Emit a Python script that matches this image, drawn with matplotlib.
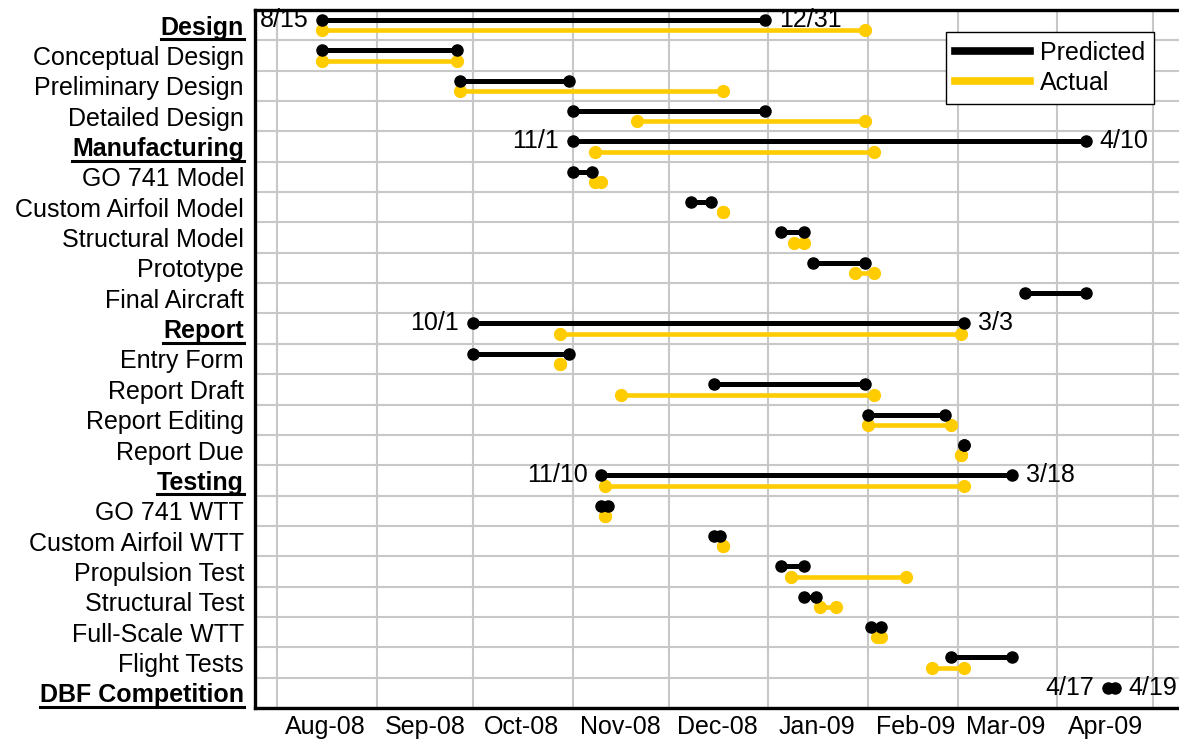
import datetime as dt

import matplotlib
matplotlib.use("Agg")
import matplotlib.dates as mdates
import matplotlib.pyplot as plt
from matplotlib.lines import Line2D
from matplotlib.ticker import FixedLocator, NullFormatter

plt.rcParams["font.family"] = ["Liberation Sans", "DejaVu Sans"]
plt.rcParams["font.size"] = 18

tasks = [
    "Design", "Conceptual Design", "Preliminary Design", "Detailed Design",
    "Manufacturing", "GO 741 Model", "Custom Airfoil Model", "Structural Model",
    "Prototype", "Final Aircraft",
    "Report", "Entry Form", "Report Draft", "Report Editing", "Report Due",
    "Testing", "GO 741 WTT", "Custom Airfoil WTT", "Propulsion Test",
    "Structural Test", "Full-Scale WTT", "Flight Tests",
    "DBF Competition",
]
groups = ["Design", "Manufacturing", "Report", "Testing", "DBF Competition"]

pred_start = [
    "2008-08-15", "2008-08-15", "2008-09-27", "2008-11-01",
    "2008-11-01", "2008-11-01", "2008-12-08", "2009-01-05",
    "2009-01-15", "2009-03-22",
    "2008-10-01", "2008-10-01", "2008-12-15", "2009-02-01", "2009-03-03",
    "2008-11-10", "2008-11-10", "2008-12-15", "2009-01-05",
    "2009-01-12", "2009-02-02", "2009-02-27",
    "2009-04-17",
]
pred_end = [
    "2008-12-31", "2008-09-26", "2008-10-31", "2008-12-31",
    "2009-04-10", "2008-11-07", "2008-12-14", "2009-01-12",
    "2009-01-31", "2009-04-10",
    "2009-03-03", "2008-10-31", "2009-01-31", "2009-02-25", "2009-03-03",
    "2009-03-18", "2008-11-12", "2008-12-17", "2009-01-12",
    "2009-01-16", "2009-02-05", "2009-03-18",
    "2009-04-19",
]
act_start = [
    "2008-08-15", "2008-08-15", "2008-09-27", "2008-11-21",
    "2008-11-08", "2008-11-08", "2008-12-18", "2009-01-09",
    "2009-01-28", None,
    "2008-10-28", "2008-10-28", "2008-11-16", "2009-02-01", "2009-03-02",
    "2008-11-11", "2008-11-11", "2008-12-18", "2009-01-08",
    "2009-01-17", "2009-02-04", "2009-02-21",
    None,
]
act_end = [
    "2009-01-31", "2008-09-26", "2008-12-18", "2009-01-31",
    "2009-02-03", "2008-11-10", "2008-12-18", "2009-01-12",
    "2009-02-03", None,
    "2009-03-02", "2008-10-28", "2009-02-03", "2009-02-27", "2009-03-02",
    "2009-03-03", "2008-11-11", "2008-12-18", "2009-02-13",
    "2009-01-22", "2009-02-05", "2009-03-03",
    None,
]

x_min, x_max = "2008-07-25", "2009-05-09"

BLACK = "#000000"
GOLD = "#FFCC00"
GRID = "#c8c8c8"


def to_num(s):
    return mdates.date2num(dt.datetime.strptime(s, "%Y-%m-%d"))


def short(s):
    d = dt.datetime.strptime(s, "%Y-%m-%d")
    return f"{d.month}/{d.day}"


W, H = 1179, 740
fig = plt.figure(figsize=(W / 100, H / 100), dpi=100)
ax = fig.add_axes([255 / W, 32 / H, (W - 255) / W, 698 / H])

off = 0.17
for i, name in enumerate(tasks):
    if pred_start[i]:
        ax.plot([to_num(pred_start[i]), to_num(pred_end[i])], [i - off, i - off],
                color=BLACK, lw=3.6, marker="o", ms=8, solid_capstyle="butt", zorder=4)
    if act_start[i]:
        ax.plot([to_num(act_start[i]), to_num(act_end[i])], [i + off, i + off],
                color=GOLD, lw=3.3, marker="o", ms=8.5, solid_capstyle="butt", zorder=3)

# start / end dates written next to the summary rows
for name in groups:
    i = tasks.index(name)
    ax.annotate(short(pred_start[i]), (to_num(pred_start[i]), i - off),
                xytext=(-10, 0), textcoords="offset points",
                ha="right", va="center", fontsize=18)
    ax.annotate(short(pred_end[i]), (to_num(pred_end[i]), i - off),
                xytext=(10, 0), textcoords="offset points",
                ha="left", va="center", fontsize=18)

ax.set_xlim(to_num(x_min), to_num(x_max))
ax.set_ylim(len(tasks) - 0.5, -0.5)

ax.xaxis.set_major_locator(mdates.MonthLocator())
ax.xaxis.set_major_formatter(NullFormatter())
ax.xaxis.set_minor_locator(mdates.MonthLocator(bymonthday=16))
ax.xaxis.set_minor_formatter(mdates.DateFormatter("%b-%y"))
ax.tick_params(axis="x", which="both", length=0, pad=5, labelsize=18)

ax.set_yticks(range(len(tasks)))
ax.set_yticklabels(tasks)
ax.yaxis.set_minor_locator(FixedLocator([k + 0.5 for k in range(len(tasks))]))
ax.tick_params(axis="y", which="both", length=0, pad=8, labelsize=18)
for lab in ax.get_yticklabels():
    if lab.get_text() in groups:
        lab.set_fontweight("bold")

ax.grid(True, which="major", axis="x", color=GRID, lw=1.5)
ax.grid(True, which="minor", axis="y", color=GRID, lw=1.5)
ax.set_axisbelow(True)

for side in ("left", "top", "bottom"):
    ax.spines[side].set_linewidth(2.4)
    ax.spines[side].set_color(BLACK)
ax.spines["right"].set_visible(False)

handles = [Line2D([], [], color=BLACK, lw=5.5), Line2D([], [], color=GOLD, lw=5.5)]
leg = ax.legend(handles, ["Predicted", "Actual"], loc="upper right",
                bbox_to_anchor=(0.973, 0.9685), borderaxespad=0, fontsize=18,
                handlelength=3.0, handletextpad=0.4, labelspacing=0.25,
                borderpad=0.35, fancybox=False, framealpha=1)
leg.get_frame().set_edgecolor(BLACK)
leg.get_frame().set_linewidth(1.0)

# underline the bold group labels
fig.canvas.draw()
renderer = fig.canvas.get_renderer()
for lab in ax.get_yticklabels():
    if lab.get_text() in groups:
        bb = lab.get_window_extent(renderer)
        y = (bb.y0 + 0.5) / H
        fig.add_artist(Line2D([bb.x0 / W, bb.x1 / W], [y, y], color=BLACK, lw=2.2))

fig.savefig("out.png", dpi=100)
